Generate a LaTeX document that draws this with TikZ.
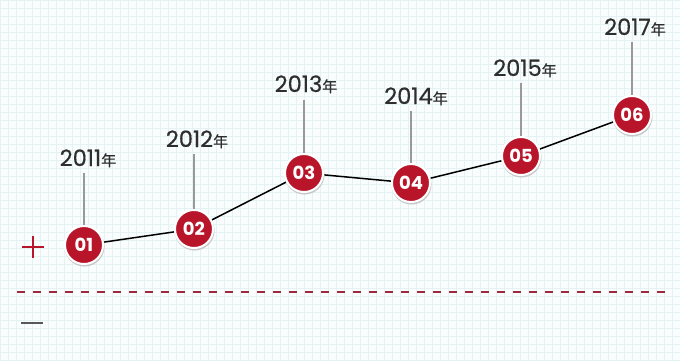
\documentclass[tikz,border=0pt]{standalone}
\usepackage{fontspec}
\setmainfont{Poppins}
\newfontfamily\cjk[FakeBold=0.6]{Noto Sans CJK SC}
\newfontfamily\yearfont[FakeBold=0.5]{Poppins}
\definecolor{gridc}{HTML}{E5F2F4}
\definecolor{bgc}{HTML}{F9FDFD}
\definecolor{dotred}{HTML}{B8152B}
\definecolor{dashred}{HTML}{9E2A3A}
\definecolor{yeartxt}{HTML}{2E2E2E}
\definecolor{stemc}{HTML}{999999}
\newcommand{\nian}{{\cjk\fontsize{15}{15}\selectfont 年}}
\begin{document}
\begin{tikzpicture}[x=1pt,y=-1pt,
  dot/.style={circle,fill=dotred,draw=white,line width=2pt,minimum size=38pt,inner sep=0pt,
    text=white,font=\bfseries\fontsize{18}{18}\selectfont},
  year/.style={text=yeartxt,font=\yearfont\fontsize{22.5}{22.5}\selectfont,inner sep=1pt,anchor=base},
  stem/.style={draw=stemc,line width=1.5pt},
  link/.style={draw=black,line width=1.5pt}]
\useasboundingbox (0,0) rectangle (680,360);
\fill[bgc] (0,0) rectangle (680,360);
\foreach \x in {0,8,...,680}{\draw[gridc,line width=0.7pt] (\x,0) -- (\x,360);}
\foreach \y in {0,8,...,360}{\draw[gridc,line width=0.7pt] (0,\y) -- (680,\y);}
% dashed axis
\coordinate (dl) at (17,292);
\coordinate (dr) at (668,292);
\draw[dashred,line width=2pt,dash pattern=on 8pt off 8pt] (dl) -- (dr);
\draw[dotred,line width=2pt] (22,247) -- (44,247) (33,236) -- (33,258);
\draw[yeartxt!80,line width=1.8pt] (21,323) -- (43,323);
% dots
\node[dot] (d1) at (84,245) {01};
\node[dot] (d2) at (194,229) {02};
\node[dot] (d3) at (304,173) {03};
\node[dot] (d4) at (411,183) {04};
\node[dot] (d5) at (521,156) {05};
\node[dot] (d6) at (632,115) {06};
% year labels
\node[year] (y1) at (88,166) {2011\nian};
\node[year] (y2) at (197,147) {2012\nian};
\node[year] (y3) at (306,92) {2013\nian};
\node[year] (y4) at (416,104) {2014\nian};
\node[year] (y5) at (525,76) {2015\nian};
\node[year] (y6) at (635,35) {2017\nian};
% stems
\coordinate (s1) at (84,173);
\coordinate (s2) at (194,154);
\coordinate (s3) at (304,100);
\coordinate (s4) at (411,111);
\coordinate (s5) at (521,83);
\coordinate (s6) at (632,42);
\foreach \i in {1,...,6}{\draw[stem] (s\i) -- (d\i.north);}
% links
\draw[link] (d1) -- (d2);
\draw[link] (d2) -- (d3);
\draw[link] (d3) -- (d4);
\draw[link] (d4) -- (d5);
\draw[link] (d5) -- (d6);
% redraw dots on top with shadow
\foreach \i/\p/\t in {1/{84,245}/01,2/{194,229}/02,3/{304,173}/03,4/{411,183}/04,5/{521,156}/05,6/{632,115}/06}{
  \fill[black!22] ([xshift=0.5pt,yshift=-1.5pt]\p) circle (20pt);
  \node[dot] at (\p) {\t};}
\end{tikzpicture}
\end{document}
